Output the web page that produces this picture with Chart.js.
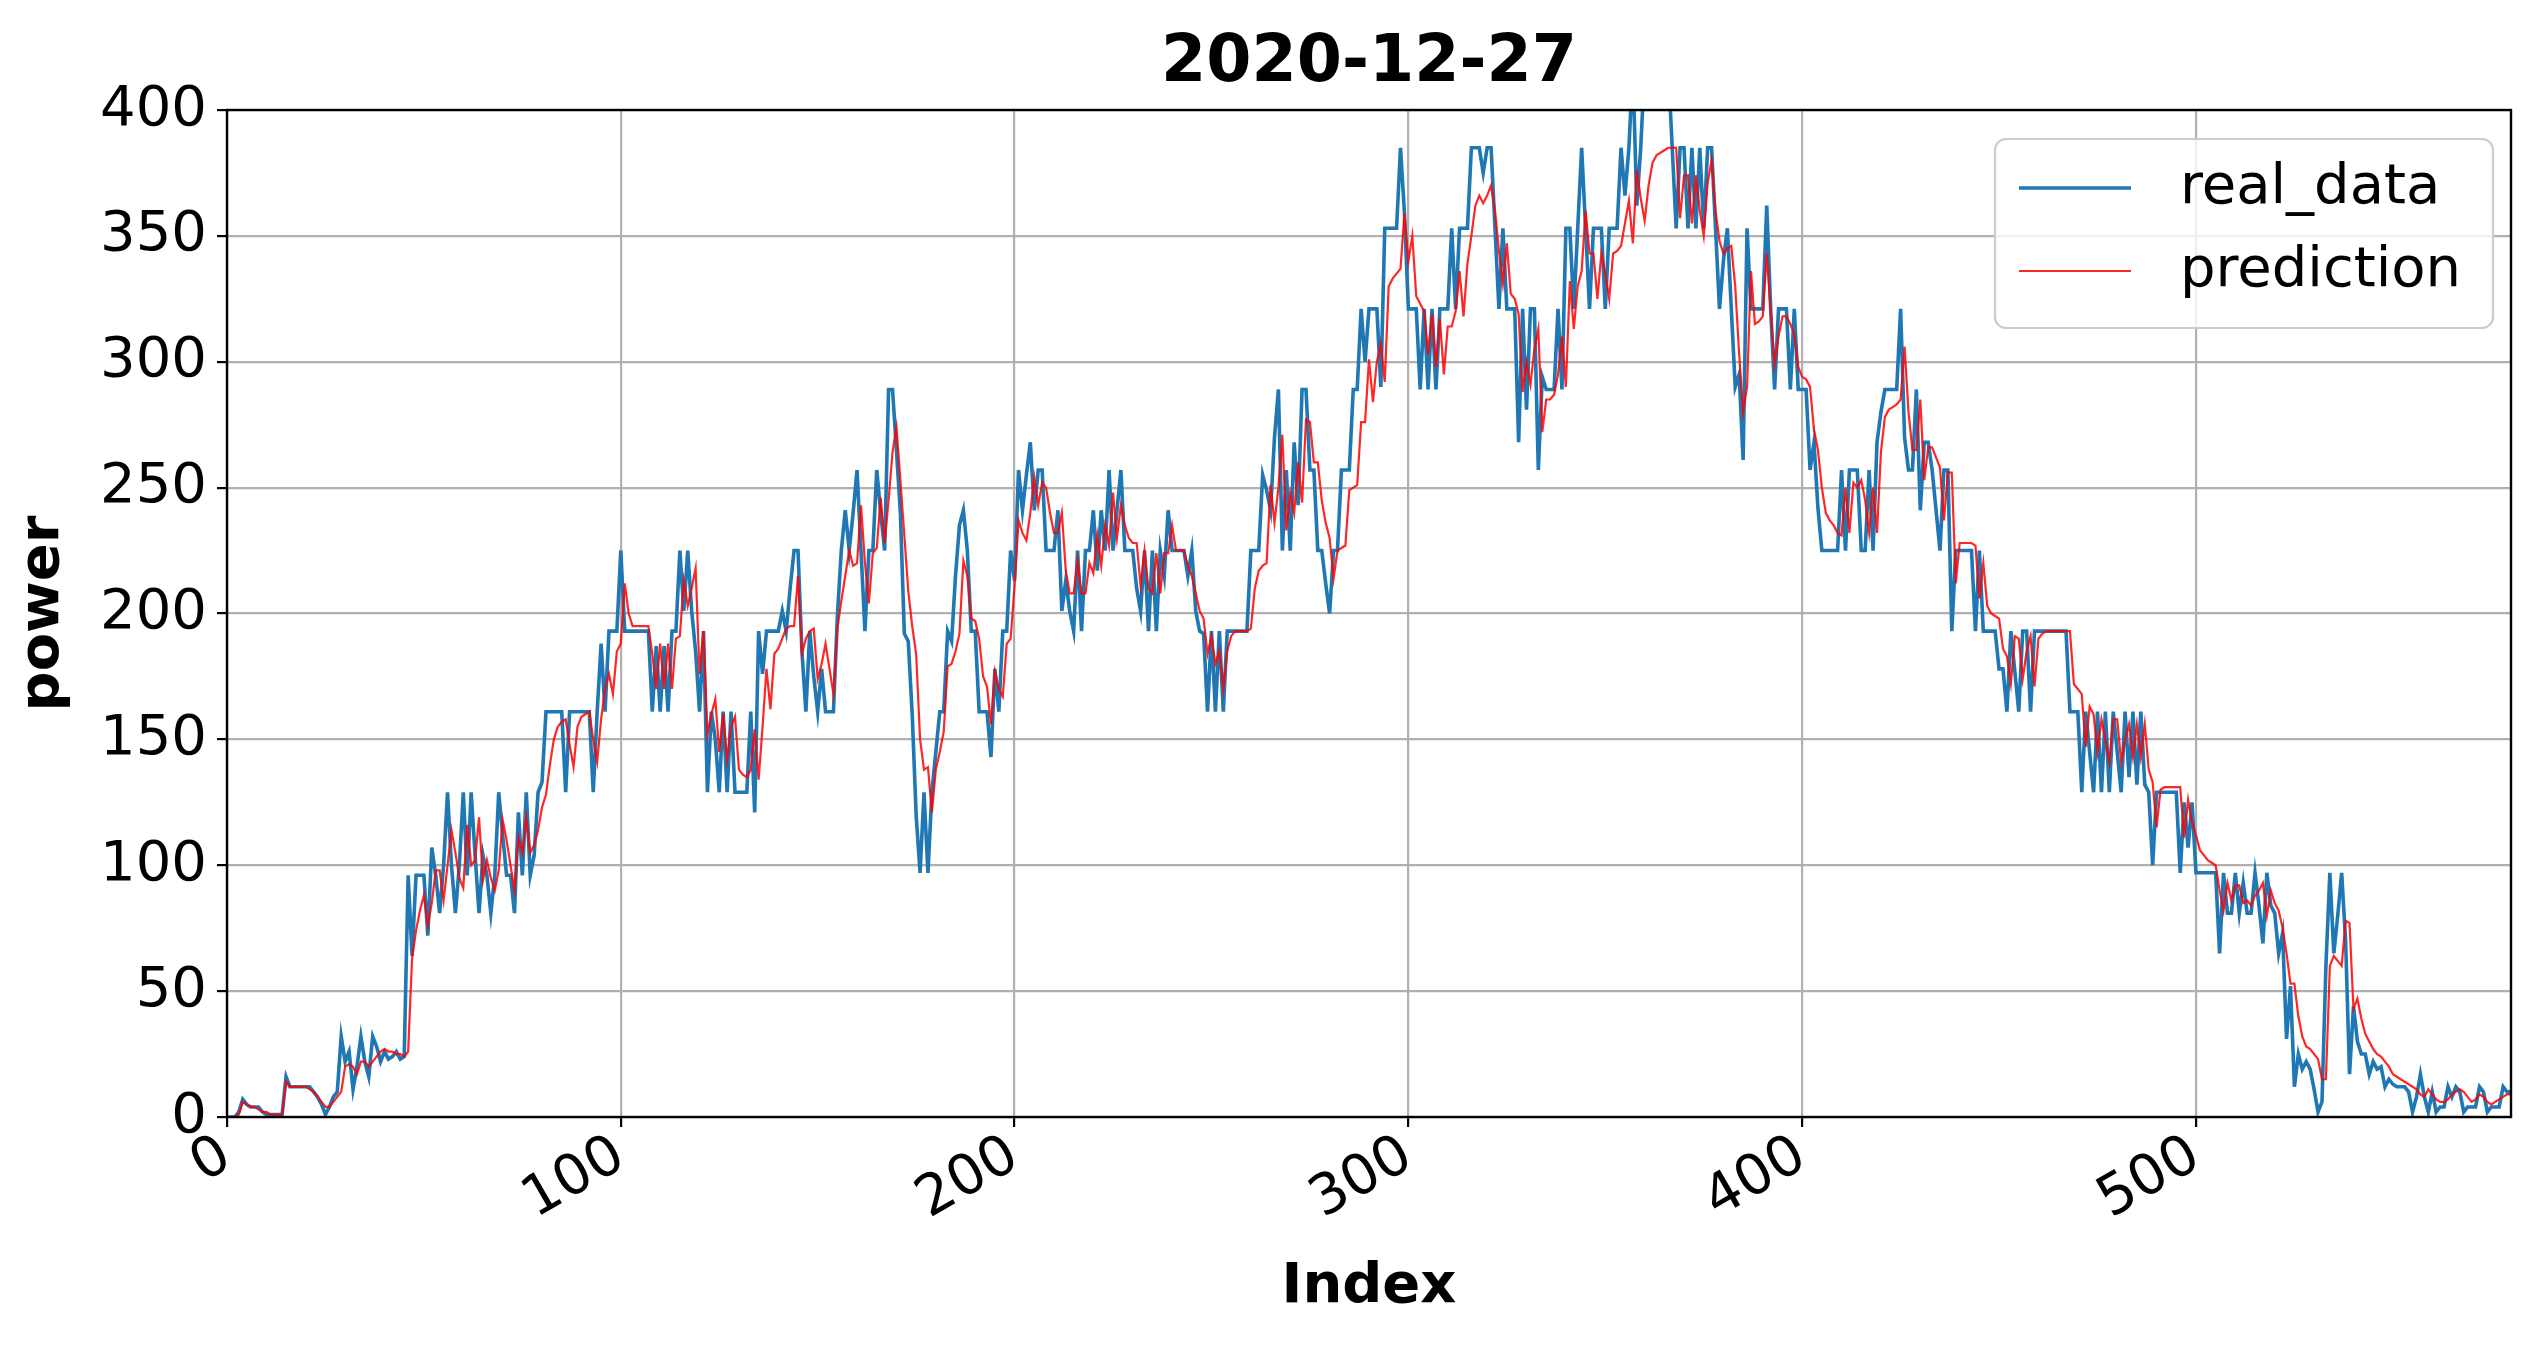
<!DOCTYPE html>
<html>
<head>
<meta charset="utf-8">
<title>2020-12-27</title>
<script src="https://cdn.jsdelivr.net/npm/chart.js@4.4.1/dist/chart.umd.min.js"></script>
<style>
  html, body { margin: 0; padding: 0; background: #ffffff; }
  #wrap { width: 2543px; height: 1345px; }
</style>
</head>
<body>
<div id="wrap"><canvas id="grafico" width="2543" height="1345"></canvas></div>
<script>
// valores (um ponto por índice, 0..580)
var realData = [
  0,0,0,2,7,5,4,4,4,2, 1,1,1,1,1,16,12,12,12,12,
  12,12,10,8,5,1,4,8,10,32, 22,26,11,20,32,22,16,32,28,22,
  26,23,24,26,23,24,96,64,96,96, 96,72,107,96,81,100,129,100,81,100,
  129,96,129,104,81,104,96,81,96,129, 112,96,96,81,121,96,129,96,104,129,
  133,161,161,161,161,161,129,161,161,161, 161,161,161,129,161,188,161,193,193,193,
  225,193,193,193,193,193,193,193,161,187, 161,187,161,193,193,225,201,225,201,185,
  161,193,129,161,150,129,161,129,161,129, 129,129,129,161,121,193,176,193,193,193,
  193,201,193,210,225,225,185,161,193,175, 161,178,161,161,161,199,225,241,225,240,
  257,225,193,225,225,257,240,225,289,289, 265,240,192,189,160,120,97,129,97,129,
  145,161,161,193,189,215,235,241,225,193, 193,161,161,161,143,178,161,193,193,225,
  213,257,241,255,268,241,257,257,225,225, 225,241,201,213,201,193,225,193,225,225,
  241,217,241,225,257,225,241,257,225,225, 225,210,201,225,193,225,193,225,215,241,
  225,225,225,225,215,225,201,193,192,161, 193,161,193,161,193,193,193,193,193,193,
  225,225,225,255,249,241,270,289,225,257, 225,268,243,289,289,257,257,225,225,212,
  200,225,225,257,257,257,289,289,321,300, 321,321,321,290,353,353,353,353,385,359,
  321,321,321,289,321,289,321,289,321,321, 321,353,321,353,353,353,385,385,385,375,
  385,385,353,321,353,321,321,321,268,321, 281,321,321,257,294,289,289,289,321,289,
  353,353,321,353,385,353,321,353,353,353, 321,353,353,353,385,366,385,417,362,385,
  417,417,417,417,417,417,417,385,353,385, 385,353,385,353,385,353,385,385,353,321,
  340,353,321,290,295,261,353,321,321,321, 321,362,321,289,321,321,321,289,321,289,
  289,289,257,268,242,225,225,225,225,225, 257,225,257,257,257,225,225,257,225,268,
  280,289,289,289,289,321,270,257,257,289, 241,268,268,257,241,225,257,257,193,225,
  225,225,225,225,193,225,193,193,193,193, 178,178,161,193,177,161,193,193,161,193,
  193,193,193,193,193,193,193,193,161,161, 161,129,161,145,129,161,129,161,129,161,
  145,129,161,135,161,132,161,132,129,100, 129,129,129,129,129,129,97,125,107,125,
  97,97,97,97,97,97,65,97,81,81, 97,81,93,81,81,97,84,69,97,84,
  81,65,73,31,52,12,25,19,22,19, 11,2,6,60,97,65,80,97,70,17,
  44,30,25,25,17,22,19,20,12,15, 13,12,12,12,10,2,8,17,8,2,
  10,2,4,4,12,8,12,10,2,4, 4,4,12,10,2,4,4,4,12,10,
  10
];

var prediction = [
  0,0,0,1,6,5,4,4,3,2, 2,1,1,1,1,14,12,12,12,12,
  12,11,10,8,6,4,4,6,8,10, 20,21,20,17,22,22,20,22,24,26,
  27,26,26,25,25,24,26,63,74,82, 88,76,85,98,98,86,100,114,105,95,
  91,116,100,102,119,94,102,95,90,98, 118,110,100,90,111,105,119,105,108,114,
  123,128,140,150,155,157,158,148,139,155, 159,160,161,150,141,158,170,176,168,185,
  188,212,200,195,195,195,195,195,184,170, 188,170,188,170,190,191,213,203,210,218,
  176,193,152,160,166,145,160,142,155,159, 138,136,135,138,154,134,155,178,162,184,
  186,190,194,195,195,215,184,190,193,194, 174,180,188,178,168,194,205,215,225,219,
  220,243,220,204,224,226,246,228,245,264, 274,253,231,209,195,184,150,138,139,121,
  138,145,153,179,180,185,192,221,215,198, 197,190,175,171,156,177,170,167,188,190,
  211,237,232,229,240,254,243,252,250,240, 232,232,240,217,208,208,221,208,208,220,
  216,231,219,235,227,248,230,243,235,230, 228,228,211,225,210,208,224,208,224,224,
  235,225,225,225,219,215,208,201,198,184, 191,180,185,170,185,191,193,193,193,193,
  194,210,217,219,220,251,236,250,271,233, 248,240,260,244,277,276,260,260,245,236,
  230,214,225,226,227,249,250,251,276,276, 301,284,300,307,292,330,333,335,337,359,
  340,350,326,323,320,303,319,298,317,295, 314,314,320,336,318,339,350,362,366,363,
  366,370,360,344,331,347,327,325,319,288, 300,291,305,313,272,285,285,287,295,310,
  290,332,313,330,336,360,343,343,325,343, 335,325,343,344,346,355,364,347,376,365,
  356,370,379,382,383,384,385,385,385,357, 374,374,355,374,360,350,371,380,360,348,
  343,345,346,330,303,280,290,336,315,316, 318,343,320,299,310,318,318,315,311,298,
  294,293,290,273,265,250,240,237,235,232, 231,250,232,252,250,253,245,232,250,232,
  264,278,281,282,283,285,306,280,265,265, 285,253,266,266,262,258,237,256,256,212,
  228,228,228,228,227,206,220,203,200,199, 198,186,183,172,191,190,174,185,191,171,
  190,192,193,193,193,193,193,193,193,172, 170,168,147,163,160,145,158,150,141,158,
  158,141,150,156,143,156,143,156,138,133, 115,130,131,131,131,131,131,111,126,117,
  112,106,104,102,101,100,90,82,93,86, 92,92,85,86,84,88,90,93,80,90,
  85,82,75,65,53,53,40,32,28,27, 25,23,15,15,60,64,62,60,78,77,
  43,47,39,33,30,27,25,24,22,20, 17,16,15,14,13,12,11,9,8,11,
  9,7,6,6,7,9,10,11,10,8, 6,7,9,8,6,5,6,7,8,9,
  9
];

var xTicks = [0, 100, 200, 300, 400, 500];
var yTicks = [0, 50, 100, 150, 200, 250, 300, 350, 400];

var FONTE = 'DejaVu Sans';

// eixo x = índice da série
function pontos(serie) {
  var lista = [];
  for (var i = 0; i < serie.length; i++) {
    lista.push({ x: i, y: serie[i] });
  }
  return lista;
}

// moldura completa + legenda dentro da área do gráfico
var molduraLegenda = {
  id: 'molduraLegenda',
  afterDraw: function (chart) {
    var ctx = chart.ctx;
    var area = chart.chartArea;
    ctx.save();

    // bordas (spines)
    ctx.strokeStyle = '#000000';
    ctx.lineWidth = 2.4;
    ctx.strokeRect(area.left, area.top, area.right - area.left, area.bottom - area.top);

    // caixa da legenda
    var bx = area.right - 516, by = area.top + 29, bw = 498, bh = 189;
    ctx.beginPath();
    ctx.roundRect(bx, by, bw, bh, 11);
    ctx.fillStyle = 'rgba(255,255,255,0.8)';
    ctx.fill();
    ctx.strokeStyle = '#cccccc';
    ctx.lineWidth = 2.2;
    ctx.stroke();

    ctx.font = '56px "' + FONTE + '"';
    ctx.textBaseline = 'middle';
    ctx.textAlign = 'left';
    chart.data.datasets.forEach(function (ds, k) {
      var ly = by + 49 + k * 83;
      ctx.beginPath();
      ctx.moveTo(bx + 24, ly);
      ctx.lineTo(bx + 136, ly);
      ctx.strokeStyle = ds.borderColor;
      ctx.lineWidth = ds.borderWidth;
      ctx.stroke();
      ctx.fillStyle = '#000000';
      ctx.fillText(ds.label, bx + 185, ly);
    });
    ctx.restore();
  }
};

var config = {
  type: 'line',
  data: {
    datasets: [
      {
        label: 'real_data',
        data: pontos(realData),
        borderColor: '#1f77b4',
        borderWidth: 3.6,
        pointRadius: 0,
        tension: 0,
        order: 2
      },
      {
        label: 'prediction',
        data: pontos(prediction),
        borderColor: 'rgba(255,0,0,0.85)',
        borderWidth: 2.2,
        pointRadius: 0,
        tension: 0,
        order: 1
      }
    ]
  },
  options: {
    responsive: false,
    animation: false,
    devicePixelRatio: 1,
    layout: { padding: { left: 0, right: 32, top: 0, bottom: 0 } },
    plugins: {
      legend: { display: false },
      tooltip: { enabled: false },
      title: {
        display: true,
        text: '2020-12-27',
        fullSize: false,
        color: '#000000',
        font: { family: FONTE, size: 65, weight: 'bold', lineHeight: 1.2 },
        padding: { top: 25, bottom: 7 }
      }
    },
    scales: {
      x: {
        type: 'linear',
        min: 0,
        max: 580,
        afterBuildTicks: function (axis) {
          axis.ticks = xTicks.map(function (v) { return { value: v }; });
        },
        afterFit: function (scale) { scale.height = 228; },
        ticks: {
          color: '#000000',
          font: { family: FONTE, size: 56 },
          minRotation: 30,
          maxRotation: 30,
          autoSkip: false,
          padding: -4
        },
        grid: {
          color: '#b0b0b0',
          lineWidth: 2.2,
          tickColor: '#000000',
          tickLength: 10,
          tickWidth: 2.2
        },
        border: { display: false },
        title: {
          display: true,
          text: 'Index',
          color: '#000000',
          font: { family: FONTE, size: 56, weight: 'bold', lineHeight: 1.2 },
          padding: { top: 0, bottom: 24 }
        }
      },
      y: {
        min: 0,
        max: 400,
        afterBuildTicks: function (axis) {
          axis.ticks = yTicks.map(function (v) { return { value: v }; });
        },
        afterFit: function (scale) { scale.width = 227; },
        ticks: {
          color: '#000000',
          font: { family: FONTE, size: 56 },
          padding: 10
        },
        grid: {
          color: '#b0b0b0',
          lineWidth: 2.2,
          tickColor: '#000000',
          tickLength: 10,
          tickWidth: 2.2
        },
        border: { display: false },
        title: {
          display: true,
          text: 'power',
          color: '#000000',
          font: { family: FONTE, size: 56, weight: 'bold', lineHeight: 1.2 },
          padding: { top: 10, bottom: 0 }
        }
      }
    }
  },
  plugins: [molduraLegenda]
};

var meuGrafico = new Chart(document.getElementById('grafico'), config);
</script>
</body>
</html>
